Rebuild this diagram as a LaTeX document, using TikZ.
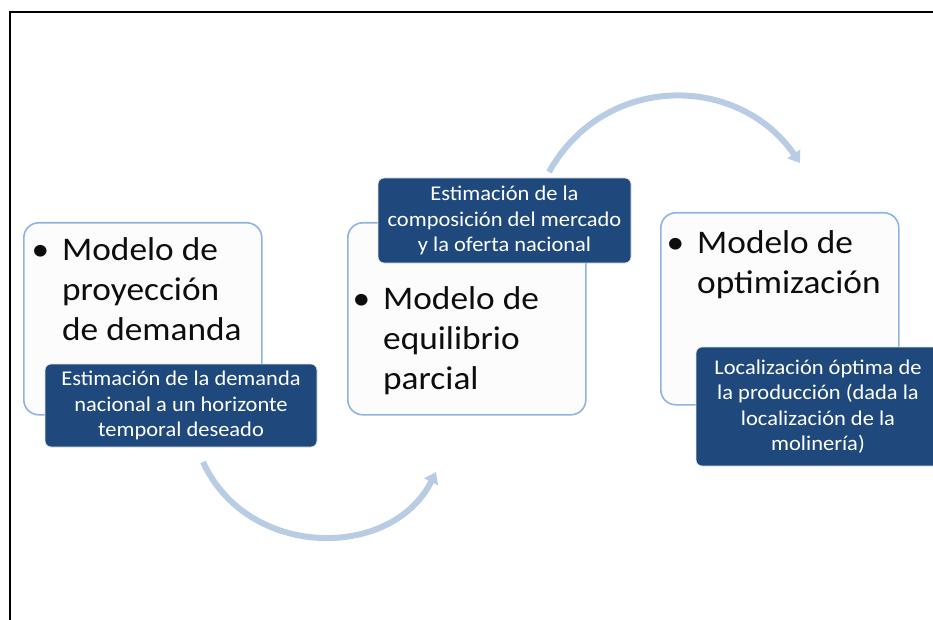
\documentclass[tikz,border=0pt]{standalone}
\usepackage{fontspec}
\setmainfont{Carlito}[FakeStretch=1.07]
\usetikzlibrary{arrows.meta, positioning, calc}
\definecolor{boxBorder}{RGB}{141,180,226}
\definecolor{noteBlue}{RGB}{31,73,125}
\definecolor{arcBlue}{RGB}{184,204,228}
\newcommand{\modbullet}{\llap{\textbullet\hspace{13pt}}}
\tikzset{
  modbox/.style={
    rectangle, rounded corners=15pt,
    draw=boxBorder, line width=1.6pt, fill=white!98!gray,
    minimum width=238pt, minimum height=192pt,
    anchor=north west
  },
  modtext/.style={
    anchor=base west, align=left, inner sep=0pt,
    font=\fontsize{33}{40}\selectfont, text=black!95
  },
  notebox/.style={
    rectangle, rounded corners=6pt,
    draw=white!80!gray, line width=0.8pt, fill=noteBlue,
    text=white, align=center, inner sep=0pt,
    font=\fontsize{21}{25.5}\selectfont
  },
  flowarc/.style={
    -{Triangle[length=11pt,width=15pt]},
    line width=6pt, color=arcBlue
  }
}
\begin{document}
\begin{tikzpicture}[x=1pt, y=-1pt]
\useasboundingbox (0,0) rectangle (933,620);

% --- frame ---
\draw[line width=2.5pt] (10,620) -- (10,12) -- (933,12);

% --- model boxes ---
\node[modbox] (mod1) at (23,222) {};
\node[modbox] (mod2) at (347,222) {};
\node[modbox] (mod3) at (660,212) {};
% base anchor sits on the last line
\node[modtext] (txt1) at (62,340) {\modbullet Modelo de\\proyección\\de demanda};
\node[modtext] (txt2) at (383,389) {\modbullet Modelo de\\equilibrio\\parcial};
\node[modtext] (txt3) at (697,293) {\modbullet Modelo de\\optimización};

% --- notes ---
\node[notebox, minimum width=272pt, minimum height=83pt] (est1) at (181,405.5)
  {Estimación de la demanda\\nacional a un horizonte\\temporal deseado};
\node[notebox, minimum width=253pt, minimum height=85pt] (est2) at (504.5,220.5)
  {Estimación de la\\composición del mercado\\y la oferta nacional};
\node[notebox, minimum width=244pt, minimum height=119pt] (est3) at (818,406.5)
  {Localización óptima de\\la producción (dada la\\localización de la\\molinería)};

% --- arcs ---
\coordinate (arc1s) at (203,462);
\coordinate (arc1e) at (436,472);
\coordinate (arc2s) at (549,172);
\coordinate (arc2e) at (800,163);
\draw[flowarc] (arc1s) .. controls (248,560) and (392,560) .. (arc1e);
\draw[flowarc] (arc2s) .. controls (604,73) and (738,73) .. (arc2e);

\end{tikzpicture}
\end{document}
